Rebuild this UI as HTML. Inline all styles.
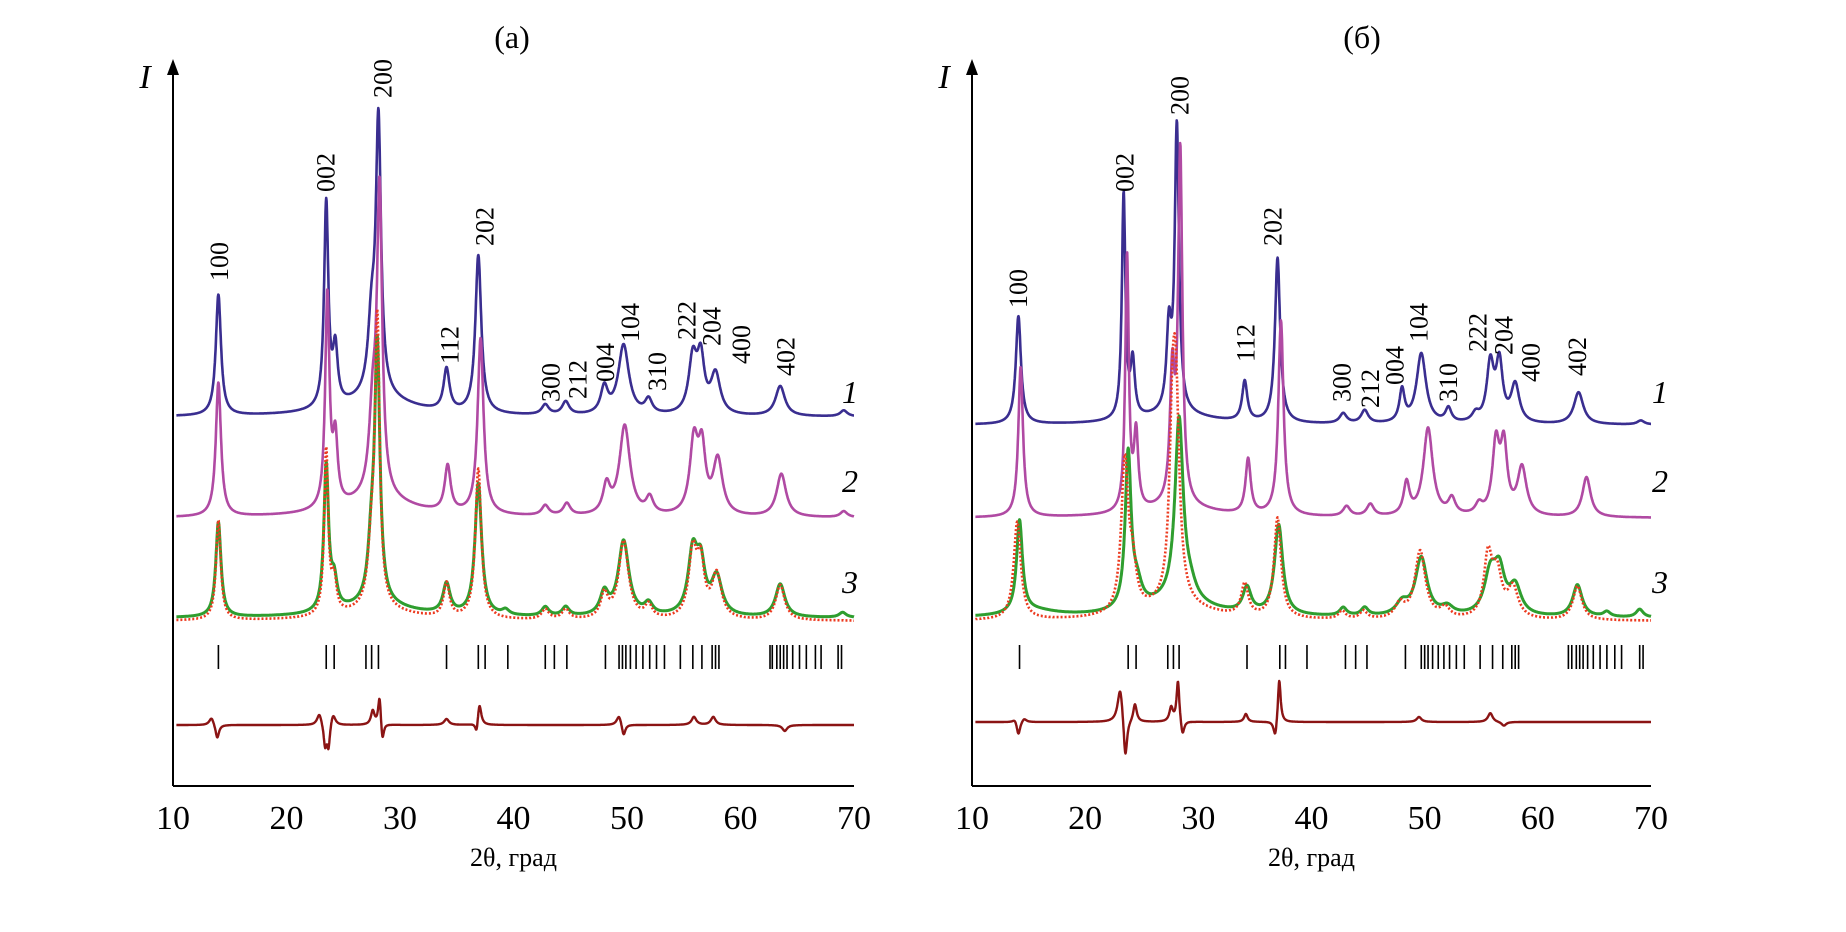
<!DOCTYPE html>
<html><head><meta charset="utf-8"><style>
html,body{margin:0;padding:0;background:#fff}
svg{display:block}
text{font-family:"Liberation Serif",serif;fill:#000}
</style></head><body>
<svg id="fig" width="1846" height="932" viewBox="0 0 1846 932" xmlns="http://www.w3.org/2000/svg"></svg>
<script>
// ---------- data ----------
const xTicks = [10,20,30,40,50,60,70];
// peaks: [position 2θ, intensity, half-width]
const a1Peaks = [[14.0,121,0.22],[23.5,205,0.18],[24.3,55,0.2],[27.5,70,0.3],[28.1,270,0.22],[28,18,3],[34.1,42,0.25],[36.9,158,0.25],[42.8,10,0.3],[44.6,13,0.3],[48.0,26,0.3],[49.7,70,0.45],[51.9,14,0.3],[55.8,55,0.35],[56.5,52,0.3],[57.8,40,0.4],[63.5,30,0.4],[69.1,6,0.3]];
const a2Peaks = [[14.0,134,0.22],[23.6,212,0.18],[24.3,65,0.2],[27.6,80,0.3],[28.2,300,0.22],[28,18,3],[34.2,46,0.25],[37.1,176,0.25],[42.8,10,0.3],[44.7,12,0.3],[48.2,28,0.3],[49.8,90,0.45],[52.0,16,0.3],[55.9,72,0.35],[56.6,60,0.3],[58.0,55,0.4],[63.6,43,0.4],[69.1,6,0.3]];
const a3Calc = [[14.0,95,0.22],[23.5,145,0.2],[24.2,28,0.25],[27.5,55,0.3],[28.0,250,0.22],[28,12,3],[34.1,30,0.3],[36.9,132,0.28],[39.3,5,0.3],[42.8,9,0.3],[44.6,9,0.3],[48.0,22,0.35],[49.7,75,0.45],[51.9,11,0.35],[55.8,62,0.4],[56.5,45,0.35],[57.9,38,0.45],[63.5,33,0.4],[69.0,5,0.3]];
const a3Obs = [[14.0,100,0.2],[23.5,165,0.17],[24.2,32,0.2],[27.5,58,0.3],[28.0,280,0.2],[28,10,3],[34.1,34,0.25],[36.9,150,0.25],[42.8,10,0.3],[44.6,10,0.3],[48.0,24,0.3],[49.7,78,0.42],[51.9,13,0.3],[55.8,66,0.35],[56.5,50,0.3],[57.9,44,0.4],[63.5,35,0.38]];
const aDiff = [[13.4,8,0.2],[13.9,-14,0.15],[22.9,12,0.2],[23.4,-22,0.12],[23.7,-24,0.12],[24.1,12,0.2],[27.6,14,0.15],[28.2,30,0.12],[28.45,-20,0.12],[34.1,6,0.2],[36.75,-12,0.12],[37.0,22,0.15],[49.3,10,0.2],[49.7,-12,0.15],[55.9,8,0.2],[57.6,8,0.2],[63.9,-6,0.2]];
const aBragg = [14.0,23.5,24.2,27.0,27.5,28.1,34.1,36.9,37.5,39.5,42.8,43.6,44.7,48.1,49.3,49.6,49.9,50.3,50.8,51.4,52.0,52.6,53.3,54.7,55.8,56.6,57.5,57.8,58.1,62.6,62.8,63.2,63.5,63.8,64.1,64.6,65.2,65.8,66.6,67.1,68.6,68.9];
const aLabels = ["100","002","200","112","202","300","212","004","104","310","222","204","400","402"];
const aLabelX = [14.1,23.5,28.5,34.4,37.5,43.3,45.7,48.1,50.3,52.7,55.3,57.5,60.1,64.0];
const aLabelY = [281,192,98,364,246,402,399,382,342,391,340,346,364,376];

const b1Peaks = [[14.1,108,0.22],[23.4,225,0.15],[24.2,55,0.18],[27.4,80,0.2],[28.1,285,0.18],[28,10,3],[34.1,40,0.22],[37.0,165,0.22],[42.8,10,0.3],[44.7,13,0.3],[48.0,32,0.22],[49.7,70,0.4],[52.1,14,0.25],[54.5,8,0.3],[55.8,58,0.3],[56.6,58,0.28],[58.0,38,0.35],[63.6,32,0.4],[69.1,4,0.3]];
const b2Peaks = [[14.3,150,0.2],[23.7,255,0.15],[24.5,75,0.18],[27.7,125,0.2],[28.4,350,0.18],[28.2,10,3],[34.4,55,0.22],[37.3,195,0.22],[43.1,10,0.3],[45.2,12,0.3],[48.4,32,0.25],[50.3,88,0.4],[52.4,16,0.3],[54.8,10,0.3],[56.3,70,0.3],[57.0,66,0.28],[58.6,48,0.38],[64.3,40,0.35]];
const b3Calc = [[14.2,92,0.25],[15.5,6,2],[23.8,155,0.25],[24.6,20,0.4],[28.3,182,0.35],[28,15,3],[29.3,12,0.5],[34.3,25,0.35],[37.1,90,0.35],[42.8,8,0.3],[44.7,8,0.3],[48.0,12,0.5],[49.7,58,0.5],[52,8,0.5],[55.8,40,0.5],[56.6,40,0.45],[58.0,28,0.5],[63.5,32,0.4],[66.1,5,0.3],[69.0,8,0.3]];
const b3Obs = [[14.0,98,0.3],[23.5,150,0.3],[24.2,40,0.3],[27.7,120,0.25],[28.0,200,0.3],[28,14,3],[34.1,32,0.3],[37.0,100,0.3],[42.7,8,0.3],[44.6,8,0.3],[47.8,14,0.4],[49.6,68,0.45],[51.8,10,0.4],[55.6,60,0.35],[56.4,42,0.4],[57.8,30,0.45],[63.5,34,0.38]];
const bDiff = [[13.8,4,0.2],[14.1,-14,0.15],[14.6,4,0.2],[23.1,36,0.22],[23.55,-42,0.15],[24.4,18,0.15],[27.6,14,0.15],[28.2,42,0.12],[28.6,-16,0.15],[34.2,8,0.15],[36.8,-18,0.15],[37.15,45,0.12],[49.5,5,0.2],[55.8,9,0.2],[57.0,-4,0.2]];
const bBragg = [14.2,23.8,24.5,27.3,27.8,28.3,34.3,37.2,37.7,39.6,43.0,43.9,44.9,48.3,49.7,50.0,50.3,50.7,51.2,51.7,52.2,52.8,53.5,54.9,56.0,56.9,57.7,58.0,58.3,62.7,63.0,63.4,63.7,64.0,64.4,64.9,65.5,66.1,66.8,67.4,69.0,69.3];
const bLabels = ["100","002","200","112","202","300","212","004","104","310","222","204","400","402"];
const bLabelX = [14.1,23.5,28.4,34.2,36.6,42.7,45.2,47.4,49.5,52.1,54.7,57.0,59.4,63.5];
const bLabelY = [308,192,115,362,246,402,408,385,342,402,352,355,382,376];

// ---------- drawing ----------
const NS="http://www.w3.org/2000/svg";
const svg=document.getElementById('fig');
const WF=1.25;
function mk(tag,attrs,parent){const e=document.createElementNS(NS,tag);for(const k in attrs)e.setAttribute(k,attrs[k]);(parent||svg).appendChild(e);return e;}
function sumPeaks(peaks,x){let s=0;for(const [p,h,w] of peaks){const u=(x-p)/(w*WF);s+=h/(1+u*u);}return s;}

function panel(cfg){
  const g=mk('g',{});
  
  
  const X0=cfg.x0,X1=cfg.x1,axisY=786,topY=59;
  const xs=v=>X0+(v-10)/60*(X1-X0);
  const ya=mk('line',{x1:X0,y1:axisY,x2:X0,y2:topY+12,stroke:'#000','stroke-width':2},g);
  
  const ar=mk('path',{d:`M${X0-6},${topY+16} L${X0},${topY} L${X0+6},${topY+16} Z`,fill:'#000'},g);
  
  const xa=mk('line',{x1:X0,y1:axisY,x2:X1,y2:axisY,stroke:'#000','stroke-width':2},g);
  
  for(const t of xTicks){
    const tl=mk('text',{x:xs(t),y:829,'text-anchor':'middle','font-size':34},g);tl.textContent=t;
    
  }
  const xt=mk('text',{x:(X0+X1)/2,y:866,'text-anchor':'middle','font-size':26},g);xt.textContent='2θ, град';
  
  const yt=mk('text',{x:X0-28,y:88,'text-anchor':'middle','font-size':34,'font-style':'italic'},g);yt.textContent='I';
  
  const ti=mk('text',{x:cfg.titleX,y:48,'text-anchor':'middle','font-size':32},g);ti.textContent=cfg.title;
  

  function curve(peaks,base,color,width,name,dash){
    let d='';
    for(let v=10.3;v<=70.0001;v+=0.03){
      const y=base-sumPeaks(peaks,v);
      d+=(d?'L':'M')+xs(v).toFixed(1)+','+y.toFixed(1);
    }
    const p=mk('path',{d:d,fill:'none',stroke:color,'stroke-width':width,'stroke-linejoin':'round'},g);
    if(dash)p.setAttribute('stroke-dasharray',dash);
    
    
  }
  curve(cfg.p1,cfg.b1,'#3a2e90',2.6,'pattern-1');
  curve(cfg.p2,cfg.b2,'#b04aa3',2.6,'pattern-2');
  curve(cfg.calc,cfg.b3,'#2f9e2f',3,'pattern-3-calculated');
  curve(cfg.obs,cfg.b3+3,'#ec3a1f',2.6,'pattern-3-observed','2 2');
  curve(cfg.diff,cfg.bd,'#8b1414',2.4,'difference-curve');
  for(const t of cfg.bragg){
    const l=mk('line',{x1:xs(t),y1:645,x2:xs(t),y2:669,stroke:'#000','stroke-width':1.6},g);
    
  }
  cfg.labels.forEach((s,i)=>{
    const x=xs(cfg.lx[i]),y=cfg.ly[i];
    const t=mk('text',{x:x,y:y,transform:`rotate(-90 ${x} ${y})`,'font-size':26,'dominant-baseline':'central'},g);
    t.textContent=s;
    
  });
  [['1',393],['2',482],['3',583]].forEach(([s,y])=>{
    const t=mk('text',{x:cfg.numX,y:y+10,'text-anchor':'middle','font-size':32,'font-style':'italic'},g);
    t.textContent=s;
    
  });
}
panel({name:'panel-a',x0:173,x1:854,titleX:512,title:'(а)',p1:a1Peaks,b1:417,p2:a2Peaks,b2:518,calc:a3Calc,obs:a3Obs,b3:618,diff:aDiff,bd:725,bragg:aBragg,labels:aLabels,lx:aLabelX,ly:aLabelY,numX:850});
panel({name:'panel-b',x0:972,x1:1651,titleX:1362,title:'(б)',p1:b1Peaks,b1:425,p2:b2Peaks,b2:518,calc:b3Calc,obs:b3Obs,b3:618,diff:bDiff,bd:722,bragg:bBragg,labels:bLabels,lx:bLabelX,ly:bLabelY,numX:1660});
</script>
</body></html>
